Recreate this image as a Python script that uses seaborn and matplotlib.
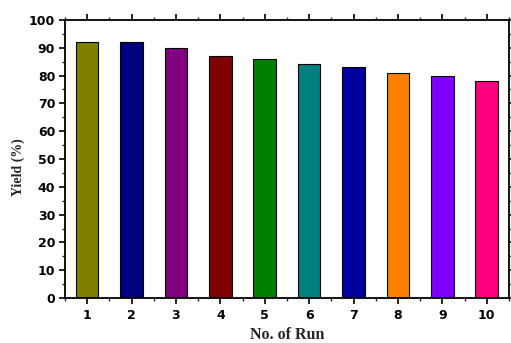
import matplotlib
matplotlib.use("Agg")
import matplotlib.pyplot as plt
import seaborn as sns
import pandas as pd
from matplotlib.ticker import MultipleLocator

runs = [1, 2, 3, 4, 5, 6, 7, 8, 9, 10]
yields = [92, 92, 90, 87, 86, 84, 83, 81, 80, 78]
colors = ["#808000", "#000080", "#800080", "#800000", "#008000",
          "#008080", "#0000A0", "#FF8000", "#8000FF", "#FF0080"]

df = pd.DataFrame({"run": runs, "yield": yields})

sns.set_style("ticks")
fig = plt.figure(figsize=(5.11, 3.43), dpi=100)
ax = fig.add_axes([0.127, 0.131, 0.869, 0.811])

sns.barplot(data=df, x="run", y="yield", hue="run", palette=colors,
            native_scale=True, width=0.51, edgecolor="black", linewidth=0.8,
            legend=False, saturation=1, ax=ax)

ax.set_xlim(0.5, 10.5)
ax.set_ylim(0, 100)
ax.set_xticks(runs)
ax.set_xticklabels([str(r) for r in runs])
ax.xaxis.set_minor_locator(MultipleLocator(0.5))
ax.yaxis.set_major_locator(MultipleLocator(10))
ax.yaxis.set_minor_locator(MultipleLocator(5))

for s in ax.spines.values():
    s.set_visible(True)
    s.set_linewidth(1.3)
    s.set_color("black")

ax.tick_params(axis="both", which="major", direction="out", length=4, width=1.2,
               top=True, right=True, labelsize=9, colors="black", pad=3)
ax.tick_params(axis="both", which="minor", direction="out", length=2.5, width=1,
               top=True, right=True)
ax.tick_params(axis="x", which="major", pad=4)
for lab in ax.get_xticklabels() + ax.get_yticklabels():
    lab.set_fontfamily("DejaVu Sans")
    lab.set_fontweight("bold")

ax.set_xlabel("No. of Run", fontfamily="Liberation Serif", fontweight="bold",
              fontsize=11.5)
ax.xaxis.set_label_coords(0.5, -0.105)
ax.xaxis.label.set_verticalalignment("top")
ax.set_ylabel("Yield (%)", fontfamily="Liberation Serif", fontweight="bold",
              fontsize=10)
ax.yaxis.set_label_coords(-0.09, 0.47)

fig.savefig("out.png", dpi=100)
